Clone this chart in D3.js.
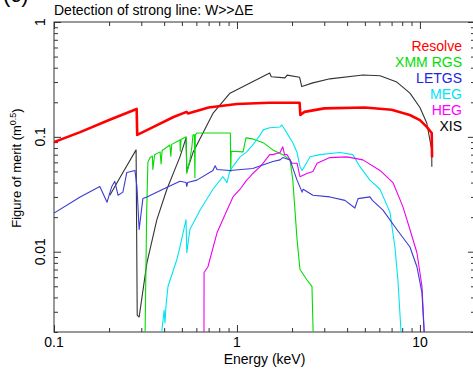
<!DOCTYPE html>
<html>
<meta charset="utf-8">
<script src="https://d3js.org/d3.v7.min.js"></script>
<style>
  body { margin: 0; background: #fff; }
  text { font-family: "Liberation Sans", Arial, Helvetica, sans-serif; }
</style>
<body>
<div id="my_dataviz"></div>
<script>
// energy (keV) and figure of merit values
const resolveE = [0.1, 0.139, 0.2, 0.283, 0.285, 0.35, 0.45, 0.53, 0.54, 0.7, 1.0, 1.5, 2.2, 2.22, 2.34, 3, 5, 7, 8.8, 10, 10.9, 11.6, 11.65];
const resolveV = [0.090, 0.110, 0.14, 0.175, 0.104, 0.122, 0.149, 0.165, 0.160, 0.18, 0.193, 0.198, 0.198, 0.155, 0.165, 0.177, 0.18, 0.172, 0.155, 0.14, 0.122, 0.108, 0.066];

const rgsE = [0.314, 0.321, 0.326, 0.335, 0.345, 0.347, 0.355, 0.38, 0.385, 0.39, 0.43, 0.435, 0.44, 0.488, 0.49, 0.495, 0.527, 0.532, 0.553, 0.567, 0.575, 0.585, 0.589, 0.592, 0.604, 0.739, 0.882, 0.92, 0.925, 0.93, 1.08, 1.12, 1.22, 1.39, 1.57, 1.78, 1.95, 2.02, 2.13, 2.21, 2.41, 2.57, 2.62];
const rgsV = [0.0015, 0.022, 0.060, 0.066, 0.068, 0.052, 0.070, 0.074, 0.058, 0.076, 0.085, 0.068, 0.086, 0.094, 0.075, 0.095, 0.100, 0.048, 0.063, 0.082, 0.104, 0.104, 0.044, 0.104, 0.108, 0.108, 0.108, 0.108, 0.05, 0.075, 0.074, 0.098, 0.096, 0.089, 0.077, 0.070, 0.063, 0.042, 0.0128, 0.007, 0.0057, 0.005, 0.0015];

const letgsE = [0.1, 0.139, 0.178, 0.195, 0.207, 0.215, 0.224, 0.238, 0.25, 0.277, 0.284, 0.292, 0.306, 0.322, 0.394, 0.488, 0.527, 0.532, 0.537, 0.604, 0.739, 0.76, 0.778, 0.916, 1.22, 1.57, 1.72, 1.78, 1.95, 2.13, 2.27, 2.30, 2.60, 3.22, 3.89, 4.41, 4.59, 5.33, 5.5, 6.28, 7.48, 8.82, 9.63, 10.26, 10.65];
const letgsV = [0.0217, 0.030, 0.037, 0.027, 0.037, 0.041, 0.031, 0.033, 0.049, 0.051, 0.037, 0.0156, 0.029, 0.030, 0.035, 0.041, 0.040, 0.037, 0.040, 0.042, 0.051, 0.056, 0.052, 0.051, 0.053, 0.061, 0.063, 0.066, 0.063, 0.042, 0.033, 0.035, 0.031, 0.030, 0.028, 0.024, 0.029, 0.030, 0.028, 0.023, 0.0156, 0.011, 0.0074, 0.0044, 0.0015];

const megE = [0.38, 0.40, 0.404, 0.41, 0.42, 0.47, 0.488, 0.527, 0.532, 0.553, 0.628, 0.739, 0.838, 0.882, 0.916, 1.04, 1.13, 1.22, 1.34, 1.39, 1.51, 1.72, 1.76, 1.80, 1.90, 2.02, 2.13, 2.21, 2.27, 2.51, 2.84, 3.65, 4.30, 4.70, 5.33, 6.05, 6.86, 7.30, 7.58, 7.97];
const megV = [0.0015, 0.0031, 0.0024, 0.0035, 0.005, 0.0086, 0.011, 0.019, 0.0098, 0.0156, 0.023, 0.035, 0.045, 0.040, 0.051, 0.067, 0.074, 0.085, 0.104, 0.115, 0.12, 0.122, 0.127, 0.12, 0.104, 0.089, 0.073, 0.055, 0.051, 0.067, 0.07, 0.073, 0.07, 0.055, 0.042, 0.035, 0.022, 0.011, 0.0057, 0.0015];

const hegE = [0.66, 0.661, 0.694, 0.778, 0.882, 0.951, 1.04, 1.13, 1.18, 1.22, 1.34, 1.39, 1.51, 1.57, 1.72, 1.78, 1.82, 1.88, 2.0, 2.13, 2.21, 2.41, 2.60, 2.74, 3.22, 3.99, 4.88, 6.05, 7.12, 8.07, 8.82, 9.63, 10.26, 10.65];
const hegV = [0.0015, 0.0066, 0.0074, 0.0146, 0.023, 0.030, 0.035, 0.042, 0.045, 0.048, 0.055, 0.059, 0.07, 0.07, 0.073, 0.082, 0.07, 0.07, 0.059, 0.059, 0.045, 0.048, 0.05, 0.059, 0.066, 0.067, 0.063, 0.051, 0.04, 0.0247, 0.0156, 0.0098, 0.005, 0.0015];

const xisE = [0.202, 0.238, 0.281, 0.285, 0.292, 0.322, 0.365, 0.414, 0.488, 0.527, 0.532, 0.575, 0.739, 0.916, 1.18, 1.51, 1.54, 1.83, 1.88, 2.2, 2.26, 2.60, 3.22, 4.88, 6.05, 7.48, 8.82, 10.0, 10.9, 11.6, 11.62];
const xisV = [0.031, 0.049, 0.077, 0.0028, 0.0027, 0.008, 0.019, 0.035, 0.067, 0.098, 0.05, 0.073, 0.16, 0.24, 0.295, 0.36, 0.334, 0.326, 0.345, 0.33, 0.274, 0.295, 0.32, 0.346, 0.34, 0.30, 0.24, 0.18, 0.132, 0.077, 0.055];

const seriesNames = ["Resolve", "XMM RGS", "LETGS", "MEG", "HEG", "XIS"];
const seriesE = [resolveE, rgsE, letgsE, megE, hegE, xisE];
const seriesV = [resolveV, rgsV, letgsV, megV, hegV, xisV];
const seriesColors = ["#ff0000", "#00dd00", "#3b3bd6", "#00e4f0", "#f000f0", "#333333"];
const legendColors = ["#ff0000", "#00dd00", "#2424e0", "#00e4f4", "#ff00ff", "#000000"];

const xTickValues = [0.1, 1, 10];
const xTickLabels = ["0.1", "1", "10"];
const yTickValues = [1, 0.1, 0.01];
const yTickLabels = ["1", "0.1", "0.01"];

// layout
const W = 473, H = 370;
const pL = 54, pT = 22, pR = 475, pB = 332;

const svg = d3.select("#my_dataviz")
  .append("svg")
  .attr("width", W)
  .attr("height", H);

const x = d3.scaleLog().domain([0.1, 20]).range([pL, pR]);
const y = d3.scaleLog().domain([0.002, 1]).range([pB, pT]);

// panel label, cut off at the top as in the source figure
svg.append("text")
  .attr("x", 3).attr("y", 2)
  .style("font-size", "22px")
  .text("(c)");

svg.append("text")
  .attr("x", pL).attr("y", 15)
  .style("font-size", "14px")
  .text("Detection of strong line: W>>\u0394E");

svg.append("defs").append("clipPath").attr("id", "plotclip")
  .append("rect")
  .attr("x", pL).attr("y", pT)
  .attr("width", pR - pL).attr("height", pB - pT);

// minor tick values
const xMinor = [];
[0.1, 1, 10].forEach(function(d) {
  for (let k = 2; k <= 9; k++) if (d * k <= 20) xMinor.push(d * k);
});
const yMinor = [];
[0.001, 0.01, 0.1].forEach(function(d) {
  for (let k = 2; k <= 9; k++) if (d * k >= 0.002) yMinor.push(d * k);
});

function addAxis(axisFn, scale, values, size, transform) {
  const g = svg.append("g")
    .attr("transform", transform)
    .call(axisFn(scale).tickValues(values).tickSizeInner(size).tickSizeOuter(0).tickFormat(""));
  g.select(".domain").remove();
  g.selectAll("line").attr("stroke", "#333");
  return g;
}

addAxis(d3.axisBottom, x, xTickValues, -7, "translate(0," + pB + ")");
addAxis(d3.axisBottom, x, xMinor, -4, "translate(0," + pB + ")");
addAxis(d3.axisTop, x, xTickValues, -7, "translate(0," + pT + ")");
addAxis(d3.axisTop, x, xMinor, -4, "translate(0," + pT + ")");
addAxis(d3.axisLeft, y, yTickValues, -7, "translate(" + pL + ",0)");
addAxis(d3.axisLeft, y, yMinor, -4, "translate(" + pL + ",0)");
addAxis(d3.axisRight, y, yTickValues, -7, "translate(" + pR + ",0)");
addAxis(d3.axisRight, y, yMinor, -4, "translate(" + pR + ",0)");

// frame
svg.append("rect")
  .attr("x", pL).attr("y", pT)
  .attr("width", pR - pL).attr("height", pB - pT)
  .attr("fill", "none")
  .attr("stroke", "#333")
  .attr("stroke-width", 1);

// tick labels
svg.selectAll(".xlab")
  .data(xTickValues)
  .enter().append("text")
  .attr("class", "xlab")
  .attr("x", function(d) { return x(d); })
  .attr("y", pB + 15)
  .attr("text-anchor", "middle")
  .style("font-size", "14px")
  .text(function(d, i) { return xTickLabels[i]; });

svg.selectAll(".ylab")
  .data(yTickValues)
  .enter().append("text")
  .attr("class", "ylab")
  .attr("transform", function(d) { return "translate(" + (pL - 9) + "," + y(d) + ") rotate(-90)"; })
  .attr("text-anchor", "middle")
  .style("font-size", "14px")
  .text(function(d, i) { return yTickLabels[i]; });

// axis titles
svg.append("text")
  .attr("x", (pL + pR) / 2)
  .attr("y", 364)
  .attr("text-anchor", "middle")
  .style("font-size", "14px")
  .text("Energy (keV)");

const yt = svg.append("text")
  .attr("transform", "translate(21,168) rotate(-90)")
  .attr("text-anchor", "middle")
  .style("font-size", "13px");
yt.append("tspan").text("Figure of merit (m");
yt.append("tspan").attr("dy", -5).style("font-size", "9px").text("0.5");
yt.append("tspan").attr("dy", 5).text(")");

// curves
const line = d3.line()
  .x(function(d) { return x(d[0]); })
  .y(function(d) { return y(d[1]); });

const plot = svg.append("g").attr("clip-path", "url(#plotclip)");
// thin ones first, Resolve on top
[5, 1, 3, 4, 2, 0].forEach(function(i) {
  plot.append("path")
    .datum(d3.zip(seriesE[i], seriesV[i]))
    .attr("fill", "none")
    .attr("stroke", seriesColors[i])
    .attr("stroke-width", i === 0 ? 2.6 : 1.1)
    .attr("stroke-linejoin", "round")
    .attr("d", line);
});

// legend
svg.selectAll(".leg")
  .data(seriesNames)
  .enter().append("text")
  .attr("class", "leg")
  .attr("x", 462)
  .attr("y", function(d, i) { return 51 + i * 16; })
  .attr("text-anchor", "end")
  .style("font-size", "14px")
  .attr("fill", function(d, i) { return legendColors[i]; })
  .text(function(d) { return d; });
</script>
</body>
</html>
